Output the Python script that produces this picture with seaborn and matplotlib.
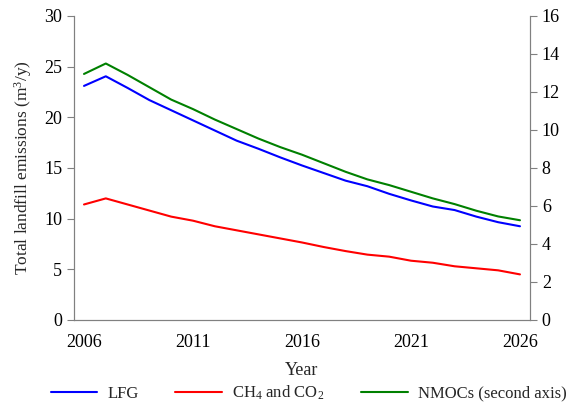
import numpy as np
import pandas as pd
import seaborn as sns
import matplotlib.pyplot as plt

years = list(range(2006, 2027))
lfg = [23.1, 24.05, 22.9, 21.7, 20.7, 19.7, 18.7, 17.7, 16.9, 16.05, 15.25,
       14.5, 13.75, 13.2, 12.45, 11.8, 11.2, 10.85, 10.2, 9.65, 9.25]
ch4_co2 = [11.4, 12.0, 11.4, 10.8, 10.2, 9.8, 9.25, 8.85, 8.45, 8.05, 7.65,
           7.2, 6.8, 6.45, 6.25, 5.85, 5.65, 5.3, 5.1, 4.9, 4.5]
nmocs = [12.95, 13.5, 12.9, 12.25, 11.6, 11.1, 10.55, 10.05, 9.55, 9.1, 8.7,
         8.25, 7.8, 7.4, 7.1, 6.75, 6.4, 6.1, 5.75, 5.45, 5.25]
xticks = [2006, 2011, 2016, 2021, 2026]

df = pd.DataFrame({'Year': years, 'LFG': lfg, 'CH4': ch4_co2, 'NMOC': nmocs})

sns.set_style('white')
plt.rcParams['font.family'] = ['Liberation Serif', 'DejaVu Serif']
plt.rcParams['mathtext.fontset'] = 'custom'
plt.rcParams['mathtext.rm'] = 'Liberation Serif'
plt.rcParams['mathtext.it'] = 'Liberation Serif:italic'

fig = plt.figure(figsize=(5.66, 4.05), dpi=100)
ax = fig.add_axes([0.1307, 0.2099, 0.8057, 0.7506])
ax2 = ax.twinx()

sns.lineplot(data=df, x='Year', y='LFG', ax=ax, color='#0000ff', lw=1.5, label='LFG', legend=False)
sns.lineplot(data=df, x='Year', y='CH4', ax=ax, color='#ff0000', lw=1.5, label='CH$_4$ and CO$_2$', legend=False)
sns.lineplot(data=df, x='Year', y='NMOC', ax=ax2, color='#008000', lw=1.5, label='NMOCs (second axis)', legend=False)

ax.set_xlim(2005.54, 2026.46)
ax.set_ylim(0, 30)
ax2.set_ylim(0, 16)
ax.set_xticks(xticks)
ax.set_yticks(range(0, 31, 5))
ax2.set_yticks(range(0, 17, 2))

gray = '#808080'
for a in (ax, ax2):
    a.spines['top'].set_visible(False)
    for s in ('left', 'right', 'bottom'):
        a.spines[s].set_color(gray)
    a.tick_params(axis='y', colors=gray, length=5, width=0.8, labelsize=13, labelcolor='black')
    a.tick_params(axis='x', length=0, labelsize=13, labelcolor='black', pad=10)

ax.set_xlabel('Year', fontsize=13, labelpad=8)
ax.set_ylabel('Total landfill emissions (m$^3$/y)', fontsize=12.5, labelpad=7)
ax2.set_ylabel('')

h1, l1 = ax.get_legend_handles_labels()
h2, l2 = ax2.get_legend_handles_labels()
fig.legend(h1 + h2, l1 + l2, loc='center', bbox_to_anchor=(0.545, 0.03), ncol=3,
           frameon=False, fontsize=12, handlelength=2.8, handletextpad=0.6,
           columnspacing=2.2)

fig.savefig('out.png', dpi=100)
